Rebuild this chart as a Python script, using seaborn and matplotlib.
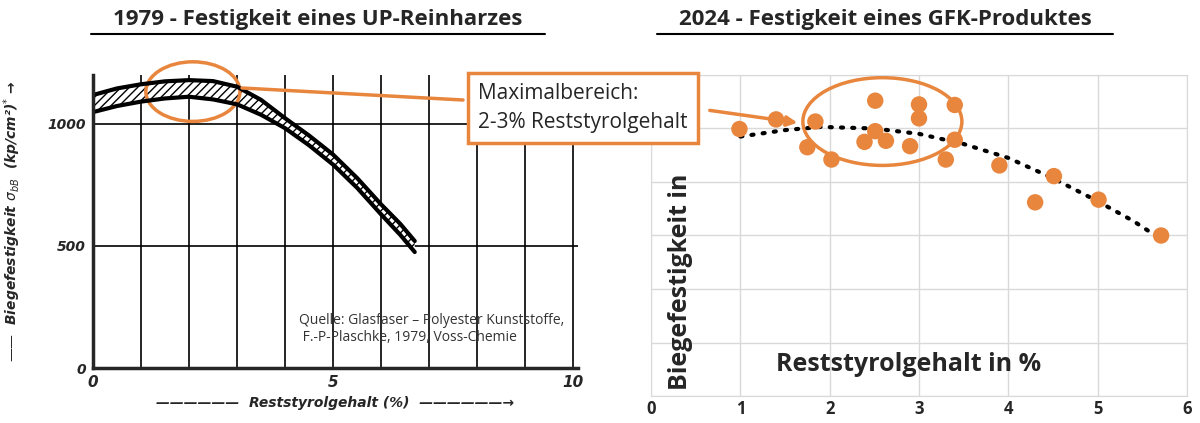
import numpy as np
import pandas as pd
import matplotlib
matplotlib.use("Agg")
import matplotlib.pyplot as plt
import seaborn as sns
from matplotlib.patches import Ellipse
from matplotlib.lines import Line2D

# left: 1979 band
band_x = [0, 0.5, 1, 1.5, 2, 2.5, 3, 3.5, 4, 4.5, 5, 5.5, 6, 6.4, 6.7]
band_upper = [1118, 1145, 1162, 1174, 1179, 1175, 1152, 1098, 1023, 952, 874, 778, 670, 590, 520]
band_lower = [1048, 1073, 1091, 1104, 1111, 1100, 1080, 1037, 982, 912, 833, 738, 629, 545, 475]

# right: 2024 measurements (grid units, no y labels in original)
pts_x = [0.99, 1.4, 1.84, 1.75, 2.02, 2.51, 2.51, 2.39, 2.63, 2.9, 3.0, 3.0, 3.4, 3.4, 3.3, 3.9, 4.3, 4.51, 5.01, 5.71]
pts_y = [4.99, 5.17, 5.13, 4.65, 4.42, 5.52, 4.95, 4.75, 4.77, 4.67, 5.45, 5.19, 5.44, 4.79, 4.42, 4.31, 3.62, 4.11, 3.67, 3.0]
trend_x = [1.0, 1.5, 1.9, 2.5, 3.0, 3.5, 4.0, 4.5, 5.0, 5.4, 5.71]
trend_y = [4.85, 4.97, 5.03, 5.0, 4.9, 4.71, 4.45, 4.07, 3.64, 3.27, 2.93]

orange = "#E8863E"
sns.set_style("white")
plt.rcParams['font.family'] = ['Open Sans', 'DejaVu Sans']

fig = plt.figure(figsize=(12, 4.23), dpi=100)
W, H = 1200, 423
axl = fig.add_axes([93 / W, 1 - 368 / H, 485 / W, 293 / H])
axr = fig.add_axes([651 / W, 1 - 396 / H, 536 / W, 321 / H])

# ---- left chart
axl.fill_between(band_x, band_lower, band_upper, facecolor="white", edgecolor="black",
                 hatch="////", linewidth=0)
sns.lineplot(x=band_x, y=band_upper, ax=axl, color="black", lw=3)
sns.lineplot(x=band_x, y=band_lower, ax=axl, color="black", lw=3)
axl.set_xlim(0, 10.1)
axl.set_ylim(0, 1200)
for v in range(1, 11):
    axl.axvline(v, color="black", lw=1.2, zorder=0)
for v in [500, 1000]:
    axl.axhline(v, color="black", lw=1.2, zorder=0)
for s in ["top", "right"]:
    axl.spines[s].set_visible(False)
axl.spines["left"].set_linewidth(2.5)
axl.spines["bottom"].set_linewidth(2.5)
axl.set_xticks([0, 5, 10])
axl.set_yticks([0, 500, 1000])
axl.set_xticklabels(["0", "5", "10"], fontstyle="italic", fontweight="bold", fontsize=11, family="DejaVu Sans")
axl.set_yticklabels(["0", "500", "1000"], fontstyle="italic", fontweight="bold", fontsize=10, family="DejaVu Sans")
axl.tick_params(length=3, pad=2)
axl.set_xlabel("——————  Reststyrolgehalt (%)  ——————→", fontstyle="italic",
               fontweight="bold", fontsize=10, family="DejaVu Sans", labelpad=4)
axl.set_ylabel("——  Biegefestigkeit $\\sigma_{bB}$  (kp/cm²)$^{*}$ →", fontstyle="italic",
               fontweight="bold", fontsize=10, family="DejaVu Sans", labelpad=18)
axl.text(4.3, 110, "Quelle: Glasfaser – Polyester Kunststoffe,\n F.-P-Plaschke, 1979, Voss-Chemie",
         fontsize=10, color="#333333")
axl.add_patch(Ellipse((2.08, 1132), 1.96, 244, fill=False, edgecolor=orange, lw=2.5, clip_on=False))

# ---- right chart
sns.lineplot(x=trend_x, y=trend_y, ax=axr, color="black", lw=3, linestyle=(0, (0.5, 2.2)),
             dash_capstyle="round")
sns.scatterplot(x=pts_x, y=pts_y, ax=axr, color=orange, s=140, edgecolor="none", zorder=3)
axr.set_xlim(0, 6)
axr.set_ylim(0, 6)
axr.set_xticks(range(7))
axr.set_yticks(range(7))
axr.set_yticklabels([])
axr.set_xticklabels([str(v) for v in range(7)], fontweight="bold", fontsize=12)
axr.tick_params(length=0, pad=3)
axr.grid(color="#d9d9d9", lw=1)
for s in axr.spines.values():
    s.set_color("#d9d9d9")
axr.text(0.055, 0.02, "Biegefestigkeit in", rotation=90, fontsize=18, fontweight="bold", va="bottom",
         ha="center", transform=axr.transAxes)
axr.text(0.48, 0.06, "Reststyrolgehalt in %", fontsize=18, fontweight="bold", ha="center", va="bottom",
         transform=axr.transAxes)
axr.add_patch(Ellipse((2.59, 5.13), 1.78, 1.64, fill=False, edgecolor=orange, lw=2.5))

# titles with underline
fig.text(318 / W, 1 - 20 / H, "1979 - Festigkeit eines UP-Reinharzes", fontsize=16, fontweight="bold",
         ha="center", va="center")
fig.text(885 / W, 1 - 20 / H, "2024 - Festigkeit eines GFK-Produktes", fontsize=16, fontweight="bold",
         ha="center", va="center")
fig.add_artist(Line2D([91 / W, 545 / W], [1 - 34 / H] * 2, color="black", lw=1.5))
fig.add_artist(Line2D([657 / W, 1113 / W], [1 - 34 / H] * 2, color="black", lw=1.5))

# annotation box and arrows
fig.text(478 / W, 1 - 108 / H, "Maximalbereich:\n2-3% Reststyrolgehalt", fontsize=15, va="center",
         linespacing=1.5,
         bbox=dict(boxstyle="square,pad=0.5", facecolor="white", edgecolor=orange, lw=2.5), zorder=5)
fig.add_artist(Line2D([463 / W, 242 / W], [1 - 100 / H, 1 - 88 / H], color=orange, lw=2.5))
axr.annotate("", xy=(1.67, 5.1), xytext=(707, H - 110), xycoords="data", textcoords="figure pixels",
             arrowprops=dict(arrowstyle="-|>", color=orange, lw=2.5, mutation_scale=15))

fig.savefig("out.png", dpi=100)
